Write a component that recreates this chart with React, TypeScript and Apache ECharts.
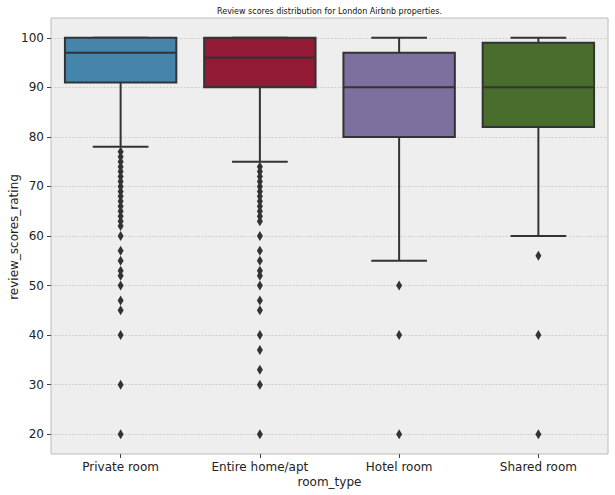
import React, { useEffect, useRef } from "react";
import * as echarts from "echarts";

const categories = ["Private room", "Entire home/apt", "Hotel room", "Shared room"];
const whiskerLow = [78, 75, 55, 60];
const q1 = [91, 90, 80, 82];
const median = [97, 96, 90, 90];
const q3 = [100, 100, 97, 99];
const whiskerHigh = [100, 100, 100, 100];

const outliersPrivate = [77, 76, 75, 74, 73, 72, 71, 70, 69, 68, 67, 66, 65, 64, 63, 62, 60, 57, 55, 53, 52, 50, 47, 45, 40, 30, 20];
const outliersEntire = [74, 73, 72, 71, 70, 69, 68, 67, 66, 65, 64, 63, 60, 57, 55, 53, 52, 50, 47, 45, 40, 37, 33, 30, 20];
const outliersHotel = [50, 40, 20];
const outliersShared = [56, 40, 20];
const outlierGroups = [outliersPrivate, outliersEntire, outliersHotel, outliersShared];

const yTicks = [20, 30, 40, 50, 60, 70, 80, 90, 100];
const boxColors = ["#4585ac", "#921a34", "#7d709e", "#486d2c"];

const FONT = "DejaVu Sans";
const EDGE = "#333333";

export default function App() {
  const ref = useRef<HTMLDivElement>(null);
  useEffect(() => {
    if (!ref.current) return;
    const chart = echarts.init(ref.current, undefined, { renderer: "svg" });
    const boxData = categories.map((_, i) => [i, whiskerLow[i], q1[i], median[i], q3[i], whiskerHigh[i]]);
    const outlierData: number[][] = [];
    outlierGroups.forEach((g, i) => g.forEach((v) => outlierData.push([i, v])));

    chart.setOption({
      animation: false,
      backgroundColor: "#ffffff",
      textStyle: { fontFamily: FONT },
      grid: {
        left: 51,
        right: 7,
        top: 18,
        bottom: 41,
        containLabel: false,
        outerBoundsMode: "none",
        show: true,
        backgroundColor: "#eeeeee",
        borderColor: "#bcbcbc",
        borderWidth: 1,
      },
      xAxis: {
        type: "category",
        data: categories,
        name: "room_type",
        nameLocation: "middle",
        nameGap: 22,
        nameMoveOverlap: false,
        nameTextStyle: { fontFamily: FONT, fontSize: 12, color: "#222" },
        axisLine: { show: false },
        axisTick: { show: true, alignWithLabel: true, length: 4, lineStyle: { color: "#444" } },
        axisLabel: { fontFamily: FONT, fontSize: 12, color: "#222", margin: 7 },
        splitLine: { show: false },
      },
      yAxis: {
        type: "value",
        min: 16,
        max: 104,
        splitNumber: 8,
        axisLine: { show: false },
        axisTick: { show: true, length: 4, lineStyle: { color: "#444" }, customValues: yTicks },
        axisLabel: { fontFamily: FONT, fontSize: 12, color: "#222", margin: 7, customValues: yTicks },
        splitLine: { show: true, lineStyle: { color: "#c4c4c4", width: 0.8, type: [2, 1.5] } },
      },
      graphic: [
        {
          type: "text",
          x: 329.5,
          y: 11,
          style: {
            text: "Review scores distribution for London Airbnb properties.",
            fontFamily: FONT,
            fontSize: 8,
            fill: "#111",
            textAlign: "center",
            textVerticalAlign: "middle",
          },
        },
        {
          type: "text",
          x: 14,
          y: 237,
          rotation: Math.PI / 2,
          style: {
            text: "review_scores_rating",
            fontFamily: FONT,
            fontSize: 12,
            fill: "#222",
            textAlign: "center",
            textVerticalAlign: "middle",
          },
        },
      ],
      series: [
        {
          type: "custom",
          data: boxData,
          encode: { x: 0, y: [1, 2, 3, 4, 5] },
          z: 2,
          renderItem: (params: any, api: any) => {
            const i = api.value(0);
            const bw = api.size([1, 0])[0];
            const half = bw * 0.4;
            const capHalf = half / 2;
            const x = api.coord([i, api.value(3)])[0];
            const yLow = api.coord([i, api.value(1)])[1];
            const yQ1 = api.coord([i, api.value(2)])[1];
            const yMed = api.coord([i, api.value(3)])[1];
            const yQ3 = api.coord([i, api.value(4)])[1];
            const yHigh = api.coord([i, api.value(5)])[1];
            const ls = { stroke: EDGE, lineWidth: 2 };
            return {
              type: "group",
              children: [
                { type: "line", shape: { x1: x, y1: yQ1, x2: x, y2: yLow }, style: ls },
                { type: "line", shape: { x1: x, y1: yQ3, x2: x, y2: yHigh }, style: ls },
                { type: "line", shape: { x1: x - capHalf, y1: yLow, x2: x + capHalf, y2: yLow }, style: ls },
                { type: "line", shape: { x1: x - capHalf, y1: yHigh, x2: x + capHalf, y2: yHigh }, style: ls },
                {
                  type: "rect",
                  shape: { x: x - half, y: yQ3, width: half * 2, height: yQ1 - yQ3 },
                  style: { fill: boxColors[i], stroke: EDGE, lineWidth: 2 },
                },
                { type: "line", shape: { x1: x - half, y1: yMed, x2: x + half, y2: yMed }, style: ls },
              ],
            };
          },
        },
        {
          type: "scatter",
          data: outlierData,
          symbol: "diamond",
          symbolSize: [6, 10],
          itemStyle: { color: EDGE, opacity: 1 },
          z: 3,
        },
      ],
    });
    return () => chart.dispose();
  }, []);
  return <div ref={ref} style={{ position: "absolute", left: 0, top: 0, width: 615, height: 495 }} />;
}
